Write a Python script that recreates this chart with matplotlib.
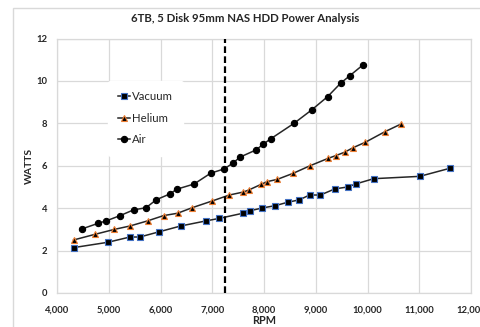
import matplotlib
matplotlib.use("Agg")
import matplotlib.pyplot as plt
from matplotlib.patches import Rectangle
from matplotlib.ticker import FuncFormatter

plt.rcParams['font.family'] = ['Lato', 'DejaVu Sans']

# data
vac_rpm = [4320, 4980, 5410, 5600, 5980, 6390, 6880, 7140, 7590, 7730, 7970,
           8220, 8460, 8680, 8880, 9090, 9370, 9620, 9770, 10120, 11010, 11590]
vac_w = [2.14, 2.39, 2.64, 2.64, 2.89, 3.16, 3.40, 3.52, 3.76, 3.88, 4.01,
         4.12, 4.28, 4.39, 4.62, 4.62, 4.91, 5.00, 5.14, 5.39, 5.50, 5.88]

he_rpm = [4320, 4740, 5110, 5410, 5750, 6060, 6330, 6610, 7000, 7330, 7600,
          7710, 7950, 8060, 8260, 8570, 8880, 9240, 9390, 9560, 9720, 9960,
          10340, 10650]
he_w = [2.50, 2.77, 3.00, 3.16, 3.40, 3.65, 3.76, 4.02, 4.34, 4.62, 4.76,
        4.86, 5.13, 5.25, 5.36, 5.65, 5.99, 6.35, 6.48, 6.64, 6.85, 7.11,
        7.61, 7.97]

air_rpm = [4480, 4800, 4950, 5220, 5480, 5720, 5920, 6190, 6310, 6650, 6970,
           7230, 7410, 7530, 7850, 7980, 8130, 8580, 8920, 9230, 9480, 9660,
           9910]
air_w = [3.02, 3.29, 3.40, 3.65, 3.92, 4.02, 4.40, 4.68, 4.89, 5.14, 5.65,
         5.85, 6.14, 6.40, 6.75, 7.01, 7.27, 8.00, 8.63, 9.26, 9.89, 10.25,
         10.75]

marker_rpm = 7240

txt = '#262626'

fig = plt.figure(figsize=(4.81, 3.27), dpi=100)
ax = fig.add_axes([57 / 481, 1 - 293 / 327, 414 / 481, 254.5 / 327])

# chart area border
fig.patches.append(Rectangle((13 / 481, -0.1), 1.0, 1.1 - 8 / 327,
                             transform=fig.transFigure, fill=False,
                             edgecolor='#d9d9d9', lw=1.0))

ax.plot(vac_rpm, vac_w, '-s', color='#262626', lw=1.1, ms=4.2,
        mfc='black', mec='#4472c4', mew=0.8, label='Vacuum', zorder=3)
ax.plot(he_rpm, he_w, '-^', color='#262626', lw=1.1, ms=4.5,
        mfc='black', mec='#ed7d31', mew=0.8, label='Helium', zorder=3)
ax.plot(air_rpm, air_w, '-o', color='#262626', lw=1.1, ms=4.5,
        mfc='black', mec='black', mew=0.8, label='Air', zorder=3)

ax.axvline(marker_rpm, color='black', lw=1.6, ls=(0, (3, 1.5)), zorder=4)

ax.set_xlim(4000, 12000)
ax.set_ylim(0, 12)
ax.set_xticks(range(4000, 12001, 1000))
ax.set_yticks(range(0, 13, 2))
ax.xaxis.set_major_formatter(FuncFormatter(lambda v, p: f'{int(v):,}'))
ax.grid(True, color='#d9d9d9', lw=0.9)
ax.set_axisbelow(True)
for s in ax.spines.values():
    s.set_color('#d9d9d9')
    s.set_linewidth(0.9)
ax.tick_params(axis='x', length=0, labelsize=6.8, colors=txt, pad=9)
ax.tick_params(axis='y', length=0, labelsize=6.8, colors=txt, pad=7)
for lab in ax.get_xticklabels() + ax.get_yticklabels():
    lab.set_fontweight('bold')

ax.text(0.454, 1.0 + 20 / 254.5, '6TB, 5 Disk 95mm NAS HDD Power Analysis',
        transform=ax.transAxes, ha='center', va='center', fontsize=8.2,
        fontweight='bold', color=txt)
ax.set_xlabel('RPM', fontsize=7.8, fontweight='bold', color=txt,
              labelpad=0)
ax.set_ylabel('WATTS', fontsize=7.5, fontweight='bold', color=txt,
              labelpad=2)

leg = ax.legend(loc='upper left', bbox_to_anchor=(0.11, 0.857), frameon=True,
                fontsize=8.2, handlelength=1.0, handletextpad=0.15,
                labelspacing=0.95, borderpad=0.9)
leg.get_frame().set_edgecolor('white')
leg.get_frame().set_facecolor('white')
leg.get_frame().set_alpha(1)
for t in leg.get_texts():
    t.set_color(txt)

fig.savefig('out.png', dpi=100)
